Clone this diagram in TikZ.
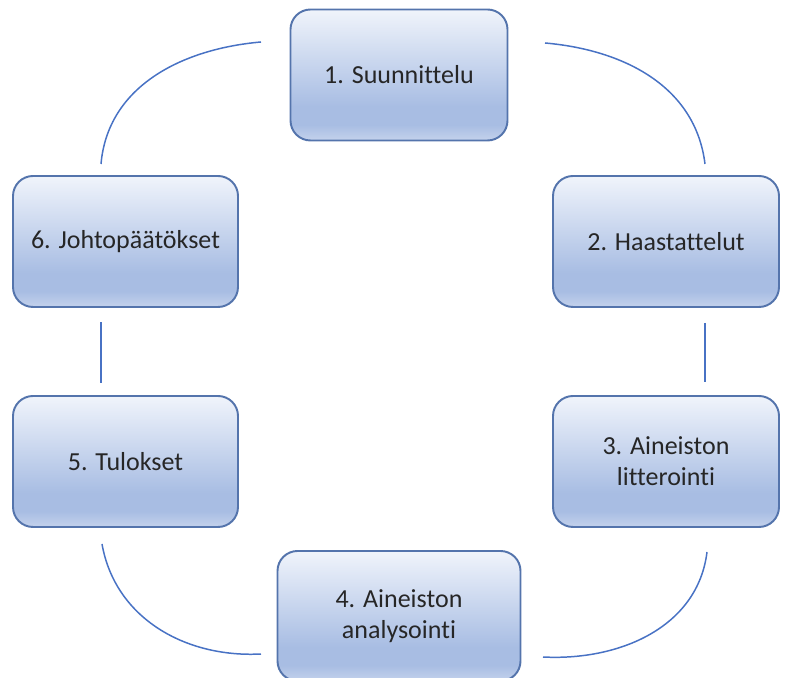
\documentclass[tikz,border=0pt]{standalone}
\usepackage{fontspec}
\setmainfont{Carlito}[Ligatures=NoCommon]
\usetikzlibrary{positioning}
\definecolor{reunus}{RGB}{84,116,172}
\definecolor{viiva}{RGB}{72,114,196}
\definecolor{ylavari}{RGB}{240,244,251}
\definecolor{tummavari}{RGB}{168,189,227}
\definecolor{alavari}{RGB}{196,210,236}
\pgfdeclareverticalshading{vaihevarjo}{100bp}{color(0bp)=(alavari); color(25bp)=(alavari); color(31bp)=(tummavari); color(38bp)=(tummavari); color(75bp)=(ylavari); color(100bp)=(ylavari)}
\tikzset{
    vaihe/.style={rectangle, rounded corners=0.4cm, draw=reunus, line width=1.1pt, shade, shading=vaihevarjo, minimum height=2.62cm, inner sep=2pt, align=center, font=\fontsize{14.8}{17.5}\selectfont, text=black!85},
    yhteys/.style={draw=viiva, line width=0.85pt}
}

\begin{document}
\begin{tikzpicture}[x=0.2mm, y=0.2mm]
    \useasboundingbox (0,0) rectangle (789,678);

    % Vaiheet
    \node[vaihe, minimum width=4.34cm] (suunnittelu) at (399,603) {1. Suunnittelu};
    \node[vaihe, minimum width=4.52cm] (haastattelut) at (666,436.5) {2. Haastattelut};
    \node[vaihe, minimum width=4.52cm] (litterointi) at (666,216.5) {3. Aineiston\\litterointi};
    \node[vaihe, minimum width=4.86cm, minimum height=2.6cm] (analysointi) at (399,62) {4. Aineiston\\analysointi};
    \node[vaihe, minimum width=4.5cm] (tulokset) at (125.5,216.5) {5. Tulokset};
    \node[vaihe, minimum width=4.5cm] (johtopaatokset) at (125.5,436.5) {6. Johtopäätökset};

    % Yhteyksien päät
    \coordinate (k1a) at (545,635);
    \coordinate (k1b) at (705,514);
    \coordinate (k2a) at (705,355);
    \coordinate (k2b) at (705,296);
    \coordinate (k3a) at (707,126);
    \coordinate (k3b) at (543,21);
    \coordinate (k4a) at (102,134);
    \coordinate (k4b) at (261,24);
    \coordinate (k5a) at (101,295);
    \coordinate (k5b) at (101,356);
    \coordinate (k6a) at (101,514);
    \coordinate (k6b) at (261,636);

    % Kaaret ja viivat
    \draw[yhteys] (k1a) to[out=-5, in=97] (k1b);
    \draw[yhteys] (k2a) -- (k2b);
    \draw[yhteys] (k3a) to[out=263, in=-3] (k3b);
    \draw[yhteys] (k4a) to[out=280, in=183] (k4b);
    \draw[yhteys] (k5a) -- (k5b);
    \draw[yhteys] (k6a) to[out=85, in=185] (k6b);

\end{tikzpicture}
\end{document}
